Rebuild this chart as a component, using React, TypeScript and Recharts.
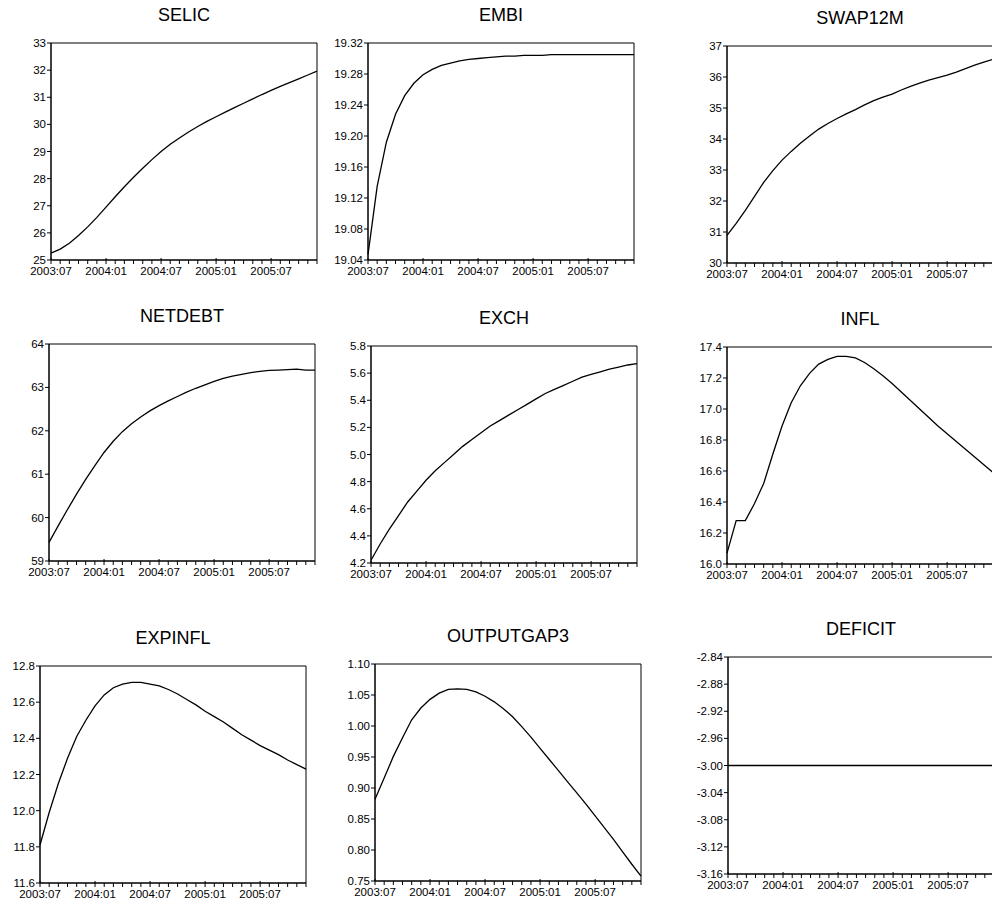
import React from "react";
import { LineChart, Line, XAxis, YAxis, ReferenceArea } from "recharts";

const MONTHS = [
  "2003:07", "2003:08", "2003:09", "2003:10", "2003:11", "2003:12",
  "2004:01", "2004:02", "2004:03", "2004:04", "2004:05", "2004:06",
  "2004:07", "2004:08", "2004:09", "2004:10", "2004:11", "2004:12",
  "2005:01", "2005:02", "2005:03", "2005:04", "2005:05", "2005:06",
  "2005:07", "2005:08", "2005:09", "2005:10", "2005:11", "2005:12",
];

const SELIC = [
  25.25, 25.4, 25.62, 25.9, 26.22, 26.57, 26.95, 27.33, 27.7, 28.05,
  28.38, 28.7, 29.0, 29.27, 29.5, 29.72, 29.92, 30.11, 30.28, 30.45,
  30.62, 30.78, 30.94, 31.1, 31.25, 31.4, 31.54, 31.68, 31.82, 31.96,
];
const EMBI = [
  19.047, 19.135, 19.192, 19.228, 19.252, 19.268, 19.279, 19.286, 19.291, 19.294,
  19.297, 19.299, 19.3, 19.301, 19.302, 19.303, 19.303, 19.304, 19.304, 19.304,
  19.305, 19.305, 19.305, 19.305, 19.305, 19.305, 19.305, 19.305, 19.305, 19.305,
];
const SWAP12M = [
  30.89, 31.28, 31.7, 32.15, 32.6, 32.98, 33.32, 33.6, 33.86, 34.1,
  34.32, 34.5, 34.66, 34.81, 34.95, 35.1, 35.24, 35.35, 35.45, 35.58,
  35.7, 35.8, 35.9, 35.98, 36.06, 36.16, 36.27, 36.38, 36.48, 36.57,
];
const NETDEBT = [
  59.43, 59.81, 60.18, 60.54, 60.88, 61.2, 61.5, 61.76, 61.98, 62.16,
  62.32, 62.46, 62.58, 62.69, 62.79, 62.89, 62.98, 63.06, 63.14, 63.21,
  63.26, 63.3, 63.34, 63.37, 63.39, 63.4, 63.41, 63.42, 63.4, 63.4,
];
const EXCH = [
  4.22, 4.34, 4.45, 4.55, 4.65, 4.73, 4.81, 4.88, 4.94, 5.0,
  5.06, 5.11, 5.16, 5.21, 5.25, 5.29, 5.33, 5.37, 5.41, 5.45,
  5.48, 5.51, 5.54, 5.57, 5.59, 5.61, 5.63, 5.645, 5.66, 5.67,
];
const INFL = [
  16.07, 16.28, 16.28, 16.39, 16.52, 16.71, 16.89, 17.04, 17.15, 17.23,
  17.29, 17.32, 17.34, 17.34, 17.33, 17.3, 17.26, 17.215, 17.165, 17.11,
  17.055, 17.0, 16.945, 16.89, 16.84, 16.79, 16.74, 16.69, 16.64, 16.59,
];
const EXPINFL = [
  11.81, 11.99, 12.15, 12.29, 12.41, 12.5, 12.58, 12.64, 12.68, 12.7,
  12.71, 12.71, 12.7, 12.69, 12.67, 12.645, 12.615, 12.585, 12.55, 12.52,
  12.49, 12.455, 12.42, 12.39, 12.36, 12.335, 12.31, 12.28, 12.255, 12.23,
];
const OUTPUTGAP3 = [
  0.882, 0.916, 0.951, 0.981, 1.01, 1.029, 1.043, 1.053, 1.059, 1.06,
  1.059, 1.055, 1.048, 1.039, 1.028, 1.015, 0.999, 0.982, 0.964, 0.946,
  0.928, 0.91, 0.892, 0.874, 0.855, 0.836, 0.817, 0.797, 0.777, 0.758,
];
const DEFICIT = [
  -3.0, -3.0, -3.0, -3.0, -3.0, -3.0, -3.0, -3.0, -3.0, -3.0,
  -3.0, -3.0, -3.0, -3.0, -3.0, -3.0, -3.0, -3.0, -3.0, -3.0,
  -3.0, -3.0, -3.0, -3.0, -3.0, -3.0, -3.0, -3.0, -3.0, -3.0,
];

const TICKS_SELIC = [25, 26, 27, 28, 29, 30, 31, 32, 33];
const TICKS_EMBI = [19.04, 19.08, 19.12, 19.16, 19.2, 19.24, 19.28, 19.32];
const TICKS_SWAP = [30, 31, 32, 33, 34, 35, 36, 37];
const TICKS_NETDEBT = [59, 60, 61, 62, 63, 64];
const TICKS_EXCH = [4.2, 4.4, 4.6, 4.8, 5.0, 5.2, 5.4, 5.6, 5.8];
const TICKS_INFL = [16.0, 16.2, 16.4, 16.6, 16.8, 17.0, 17.2, 17.4];
const TICKS_EXPINFL = [11.6, 11.8, 12.0, 12.2, 12.4, 12.6, 12.8];
const TICKS_GAP = [0.75, 0.8, 0.85, 0.9, 0.95, 1.0, 1.05, 1.1];
const TICKS_DEFICIT = [-3.16, -3.12, -3.08, -3.04, -3.0, -2.96, -2.92, -2.88, -2.84];

const FONT = "'Liberation Sans', Arial, Helvetica, sans-serif";
const PW = 266;
const PH = 217;
const YW = 60;

type PanelDef = {
  title: string;
  values: number[];
  ticks: number[];
  decimals: number;
  left: number;
  top: number;
};

const PANELS: PanelDef[] = [
  { title: "SELIC", values: SELIC, ticks: TICKS_SELIC, decimals: 0, left: 51, top: 43 },
  { title: "EMBI", values: EMBI, ticks: TICKS_EMBI, decimals: 2, left: 368, top: 43 },
  { title: "SWAP12M", values: SWAP12M, ticks: TICKS_SWAP, decimals: 0, left: 727, top: 46 },
  { title: "NETDEBT", values: NETDEBT, ticks: TICKS_NETDEBT, decimals: 0, left: 49, top: 344 },
  { title: "EXCH", values: EXCH, ticks: TICKS_EXCH, decimals: 1, left: 371, top: 346 },
  { title: "INFL", values: INFL, ticks: TICKS_INFL, decimals: 1, left: 727, top: 347 },
  { title: "EXPINFL", values: EXPINFL, ticks: TICKS_EXPINFL, decimals: 1, left: 40, top: 666 },
  { title: "OUTPUTGAP3", values: OUTPUTGAP3, ticks: TICKS_GAP, decimals: 2, left: 375, top: 664 },
  { title: "DEFICIT", values: DEFICIT, ticks: TICKS_DEFICIT, decimals: 2, left: 728, top: 657 },
];

const XTick = (props: any) => {
  const { x, y, payload } = props;
  const label = String(payload.value);
  const major = label.endsWith(":01") || label.endsWith(":07");
  return (
    <g>
      <line x1={x} x2={x} y1={major ? y - 2 : y} y2={y + 4} stroke="#000" strokeWidth={1} />
      {major && (
        <text x={x} y={y + 15} textAnchor="middle" fontSize={11.5} fill="#000" fontFamily={FONT}>
          {label}
        </text>
      )}
    </g>
  );
};

const Panel = ({ p }: { p: PanelDef }) => {
  const data = MONTHS.map((m, i) => ({ month: m, v: p.values[i] }));
  const lo = p.ticks[0];
  const hi = p.ticks[p.ticks.length - 1];
  return (
    <>
      <div
        style={{
          position: "absolute",
          left: p.left,
          top: p.top - 37,
          width: PW,
          textAlign: "center",
          fontFamily: FONT,
          fontSize: 18,
          lineHeight: "18px",
          color: "#000",
        }}
      >
        {p.title}
      </div>
      <div style={{ position: "absolute", left: p.left - YW, top: p.top - 10 }}>
        <LineChart
          width={PW + YW + 10}
          height={PH + 10 + 30}
          data={data}
          margin={{ top: 10, right: 10, bottom: 0, left: 0 }}
        >
          <XAxis
            dataKey="month"
            interval={0}
            height={30}
            tickSize={0}
            tickMargin={0}
            tickLine={false}
            axisLine={{ stroke: "#000", strokeWidth: 1 }}
            tick={<XTick />}
          />
          <YAxis
            type="number"
            width={YW}
            domain={[lo, hi]}
            ticks={p.ticks}
            allowDataOverflow
            interval={0}
            tickSize={4}
            tickMargin={1}
            axisLine={{ stroke: "#000", strokeWidth: 1 }}
            tickLine={{ stroke: "#000", strokeWidth: 1 }}
            tick={{ fill: "#000", fontSize: 11.5, fontFamily: FONT }}
            tickFormatter={(v: number) => v.toFixed(p.decimals)}
          />
          <ReferenceArea
            x1={MONTHS[0]}
            x2={MONTHS[MONTHS.length - 1]}
            y1={lo}
            y2={hi}
            fill="none"
            fillOpacity={0}
            stroke="#000"
            strokeWidth={1}
            ifOverflow="visible"
          />
          <Line
            type="linear"
            dataKey="v"
            stroke="#000"
            strokeWidth={1.3}
            dot={false}
            isAnimationActive={false}
          />
        </LineChart>
      </div>
    </>
  );
};

export default function App() {
  return (
    <div
      style={{
        position: "absolute",
        left: 0,
        top: 0,
        width: 992,
        height: 905,
        overflow: "hidden",
        background: "#fff",
      }}
    >
      {PANELS.map((p) => (
        <Panel key={p.title} p={p} />
      ))}
    </div>
  );
}
